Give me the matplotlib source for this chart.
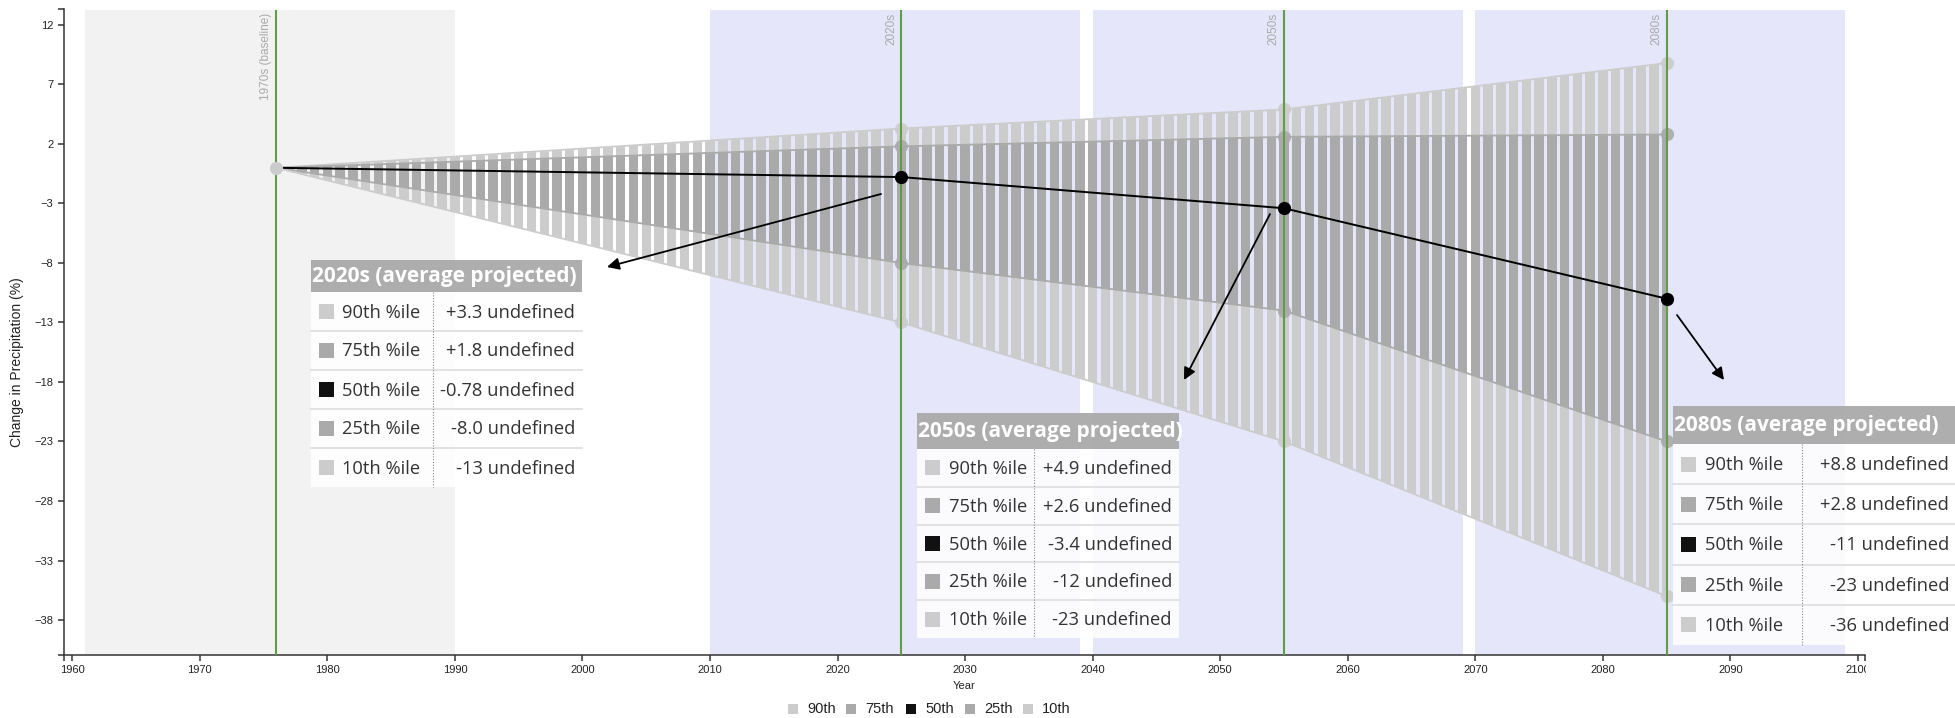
import numpy as np
import matplotlib.pyplot as plt
from matplotlib.patches import Rectangle
from matplotlib.path import Path
from matplotlib.lines import Line2D
from matplotlib.transforms import Bbox, TransformedBbox

plt.rcParams['font.family'] = ['Liberation Sans', 'DejaVu Sans']

W, H = 1955, 718

# decade anchors (year, % change)
decade_years = [1976, 2025, 2055, 2085]
p90 = [0, 3.3, 4.9, 8.8]
p75 = [0, 1.8, 2.6, 2.8]
p50 = [0, -0.78, -3.4, -11]
p25 = [0, -8.0, -12, -23]
p10 = [0, -13, -23, -36]

marker_labels = ['1970s (baseline)', '2020s', '2050s', '2080s']
baseline_span = (1961, 1990)
future_spans = [(2010, 2039), (2040, 2069), (2070, 2099)]

pct_names = ['90th', '75th', '50th', '25th', '10th']
pct_colors = ['#cccccc', '#aaaaaa', '#111111', '#aaaaaa', '#cccccc']

tip_titles = ['2020s (average projected)', '2050s (average projected)', '2080s (average projected)']
tip_values = [
    ['+3.3', '+1.8', '-0.78', '-8.0', '-13'],
    ['+4.9', '+2.6', '-3.4', '-12', '-23'],
    ['+8.8', '+2.8', '-11', '-23', '-36'],
]
tip_unit = 'undefined'

x_ticks = list(range(1960, 2101, 10))
y_ticks = list(range(-38, 13, 5))

LIGHT = '#cccccc'
DARK = '#aaaaaa'
GREEN = '#5f9e45'
AXC = '#333333'


def fx(px):
    return px / W


def fy(py):
    return 1 - py / H


fig = plt.figure(figsize=(W / 100, H / 100), dpi=100)
ax = fig.add_axes([fx(64), fy(655), (1865 - 64) / W, (655 - 9.5) / H])
ax.set_xlim(1959.35, 2100.55)
ax.set_ylim(-40.94, 13.3)

# background periods
ax.axvspan(*baseline_span, color='#f2f2f2', lw=0, zorder=0)
for a, b in future_spans:
    ax.axvspan(a, b, color='#e6e6fa', lw=0, zorder=0)

# one thin bar per year: clip the bands to vertical stripes
half = 0.37
verts, codes = [], []
for yr in range(decade_years[0], decade_years[-1] + 1):
    verts += [(yr - half, -100), (yr + half, -100), (yr + half, 100), (yr - half, 100), (0, 0)]
    codes += [Path.MOVETO, Path.LINETO, Path.LINETO, Path.LINETO, Path.CLOSEPOLY]
stripes = Path(verts, codes)

outer = ax.fill_between(decade_years, p10, p90, color=LIGHT, lw=0, zorder=1)
outer.set_clip_path(stripes, ax.transData)
inner = ax.fill_between(decade_years, p25, p75, color=DARK, lw=0, zorder=1.1)
inner.set_clip_path(stripes, ax.transData)

for vals, c in [(p90, LIGHT), (p75, DARK), (p25, DARK), (p10, LIGHT)]:
    ax.plot(decade_years, vals, color=c, lw=1.3, zorder=1.5)
    ax.plot(decade_years[1:], vals[1:], 'o', ms=9.5, color=c, alpha=0.9, mec='none', zorder=2)

# decade marker lines
for yr, lab in zip(decade_years, marker_labels):
    ax.axvline(yr, color=GREEN, lw=1.5, zorder=3)
    ax.annotate(lab, xy=(yr, 1), xycoords=('data', 'axes fraction'),
                xytext=(-7.5, -2.5), textcoords='offset points',
                rotation=90, ha='center', va='top', fontsize=8.5, color='#aaaaaa')

# median
ax.plot(decade_years, p50, color='black', lw=1.4, zorder=4)
ax.plot(decade_years[1:], p50[1:], 'o', ms=8.5, color='black', zorder=4.5)
ax.plot(decade_years[:1], p50[:1], 'o', ms=9.5, color=LIGHT, mec='none', zorder=4.6)

# axes styling
for s in ['top', 'right']:
    ax.spines[s].set_visible(False)
for s in ['left', 'bottom']:
    ax.spines[s].set_color(AXC)
    ax.spines[s].set_linewidth(1.1)
ax.set_xticks(x_ticks)
ax.set_yticks(y_ticks)
ax.set_xticks([1959.35, 2100.55], minor=True)
ax.set_yticks([-40.94, 13.3], minor=True)
ax.tick_params(which='both', length=4.5, width=1.1, color=AXC, labelsize=8, labelcolor='#222222', pad=3)
ax.set_xlabel('Year', fontsize=8, labelpad=4, color='#222222')
fig.text(fx(17), fy(362), 'Change in Precipitation (%)', rotation=90, ha='center', va='center',
         fontsize=10, color='#222222')

# last year label is cut off at the chart's right edge
last_lab = ax.get_xticklabels()[-1]
last_lab.set_clip_on(True)
last_lab.set_clip_box(TransformedBbox(Bbox([[0, 0], [1866 / W, 1]]), fig.transFigure))

# bottom legend
leg_sq_x = [788, 846, 906, 965, 1023]
for x0, name, c in zip(leg_sq_x, pct_names, pct_colors):
    fig.add_artist(Rectangle((fx(x0), fy(714)), 10 / W, 10 / H, transform=fig.transFigure,
                             color=c, lw=0))
    fig.text(fx(x0 + 19), fy(709), name, ha='left', va='center', fontsize=10.5, color='#222222')

# arrows toward the tooltips (figure pixels, top-left origin)
arrow_tails = [(881, 194), (1270, 214), (1677, 315)]
arrow_heads = [(607, 267), (1184, 380), (1724, 380)]
for (tx, ty), (hx, hy) in zip(arrow_tails, arrow_heads):
    ax.annotate('', xy=(fx(hx), fy(hy)), xycoords='figure fraction',
                xytext=(fx(tx), fy(ty)), textcoords='figure fraction',
                arrowprops=dict(arrowstyle='-|>', color='black', lw=1.3,
                                mutation_scale=18, shrinkA=0, shrinkB=0), zorder=6)

# tooltip boxes: left, top, right, header height, row height, divider x
tip_boxes = [
    (310.5, 260, 582, 32, 39, 433),
    (917, 413, 1179, 36, 37.8, 1034),
    (1673, 406, 1956, 38, 40.2, 1802),
]
TIPFONT = ['Open Sans', 'DejaVu Sans']
for (l, t, r, hh, rh, dx), title, vals in zip(tip_boxes, tip_titles, tip_values):
    fig.add_artist(Rectangle((fx(l), fy(t + hh)), (r - l) / W, hh / H, transform=fig.transFigure,
                             color='#aaaaaa', alpha=0.95, lw=0, zorder=10))
    fig.text(fx(l + 1.5), fy(t + hh / 2 + 1), title, ha='left', va='center', color='white',
             fontsize=15, fontweight='bold', family=TIPFONT, zorder=11)
    bt = t + hh
    fig.add_artist(Rectangle((fx(l), fy(bt + 5 * rh)), (r - l) / W, 5 * rh / H,
                             transform=fig.transFigure, color='white', alpha=0.88, lw=0, zorder=10))
    for i, (name, c, v) in enumerate(zip(pct_names, pct_colors, vals)):
        y0 = bt + i * rh
        yc = y0 + rh / 2
        if i > 0:
            fig.add_artist(Line2D([fx(l), fx(r)], [fy(y0), fy(y0)], transform=fig.transFigure,
                                  color='#dddddd', lw=1.2, zorder=11))
        fig.add_artist(Rectangle((fx(l + 8), fy(yc + 7.5)), 15 / W, 15 / H, transform=fig.transFigure,
                                 color=c, lw=0, zorder=11))
        fig.text(fx(l + 32), fy(yc + 1), name + ' %ile', ha='left', va='center', color='#333333',
                 fontsize=13.2, family=TIPFONT, zorder=12)
        fig.text(fx(r - 7), fy(yc + 1), v + ' ' + tip_unit, ha='right', va='center', color='#333333',
                 fontsize=13.2, family=TIPFONT, zorder=12)
    fig.add_artist(Line2D([fx(dx), fx(dx)], [fy(bt), fy(bt + 5 * rh)], transform=fig.transFigure,
                          color='#888888', lw=0.8, ls=(0, (1, 1.5)), zorder=11))

fig.savefig('out.png', dpi=100)
